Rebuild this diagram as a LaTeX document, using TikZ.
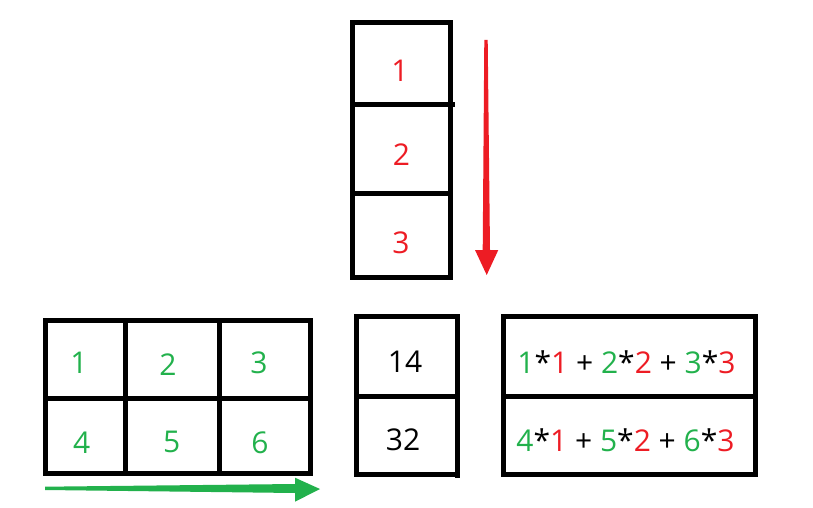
\documentclass[tikz,border=0pt]{standalone}
\usepackage{fontspec}
\setmainfont{Open Sans}
\definecolor{pgreen}{HTML}{22B14C}
\definecolor{pred}{HTML}{ED1C24}
\begin{document}
\begin{tikzpicture}[x=1pt,y=-1pt,
  frame/.style={line width=5pt, draw=black},
  num/.style={font=\fontsize{30}{36}\selectfont, inner sep=0pt}]
\useasboundingbox (0,0) rectangle (813,508);
% ---- top column (red vector)
\draw[frame] (352.5,22.5) rectangle (450.5,277.5);
\draw[frame] (352.5,105) -- (455,105);
\draw[frame] (352.5,193.5) -- (450.5,193.5);
\node[num, text=pred] (v1) at (400,70.7) {1};
\node[num, text=pred] (v2) at (401.5,155) {2};
\node[num, text=pred] (v3) at (401,243) {3};
% red arrow
\coordinate (ra) at (486,40);
\fill[pred] (484.3,40) -- (487.7,40) -- (490,250) -- (498.3,250) -- (486.7,275)
  -- (475,250) -- (482.7,250) -- cycle;
% ---- left grid (green matrix)
\draw[frame] (45,320) rectangle (310.5,473);
\draw[frame] (45,398) -- (310.5,398);
\draw[frame] (125,320) -- (125,473);
\draw[frame] (219,320) -- (219,473);
\node[num, text=pgreen] (m1) at (79,363) {1};
\node[num, text=pgreen] (m2) at (168,365) {2};
\node[num, text=pgreen] (m3) at (259,362.7) {3};
\node[num, text=pgreen] (m4) at (81.7,443) {4};
\node[num, text=pgreen] (m5) at (171.7,441.7) {5};
\node[num, text=pgreen] (m6) at (260,443) {6};
% green arrow
\fill[pgreen] (45,486.7) -- (295,484) -- (295,477.7) -- (320,489) -- (295,501.7)
  -- (295,493) -- (45,490) -- cycle;
% ---- result column
\draw[frame] (356.5,316.5) rectangle (457,474);
\draw[frame] (457,474) -- (457,478);
\draw[frame] (356.5,396.5) -- (457,396.5);
\node[num] (r1) at (405,362) {14};
\node[num] (r2) at (403,440) {32};
% ---- expression box
\draw[frame] (503,316) rectangle (755,474);
\draw[frame] (503,396.5) -- (755,396.5);
\node[num] (e1) at (626.5,362) {\textcolor{pgreen}{1}*\textcolor{pred}{1} + \textcolor{pgreen}{2}*\textcolor{pred}{2} + \textcolor{pgreen}{3}*\textcolor{pred}{3}};
\node[num] (e2) at (625.5,440) {\textcolor{pgreen}{4}*\textcolor{pred}{1} + \textcolor{pgreen}{5}*\textcolor{pred}{2} + \textcolor{pgreen}{6}*\textcolor{pred}{3}};
\end{tikzpicture}
\end{document}
